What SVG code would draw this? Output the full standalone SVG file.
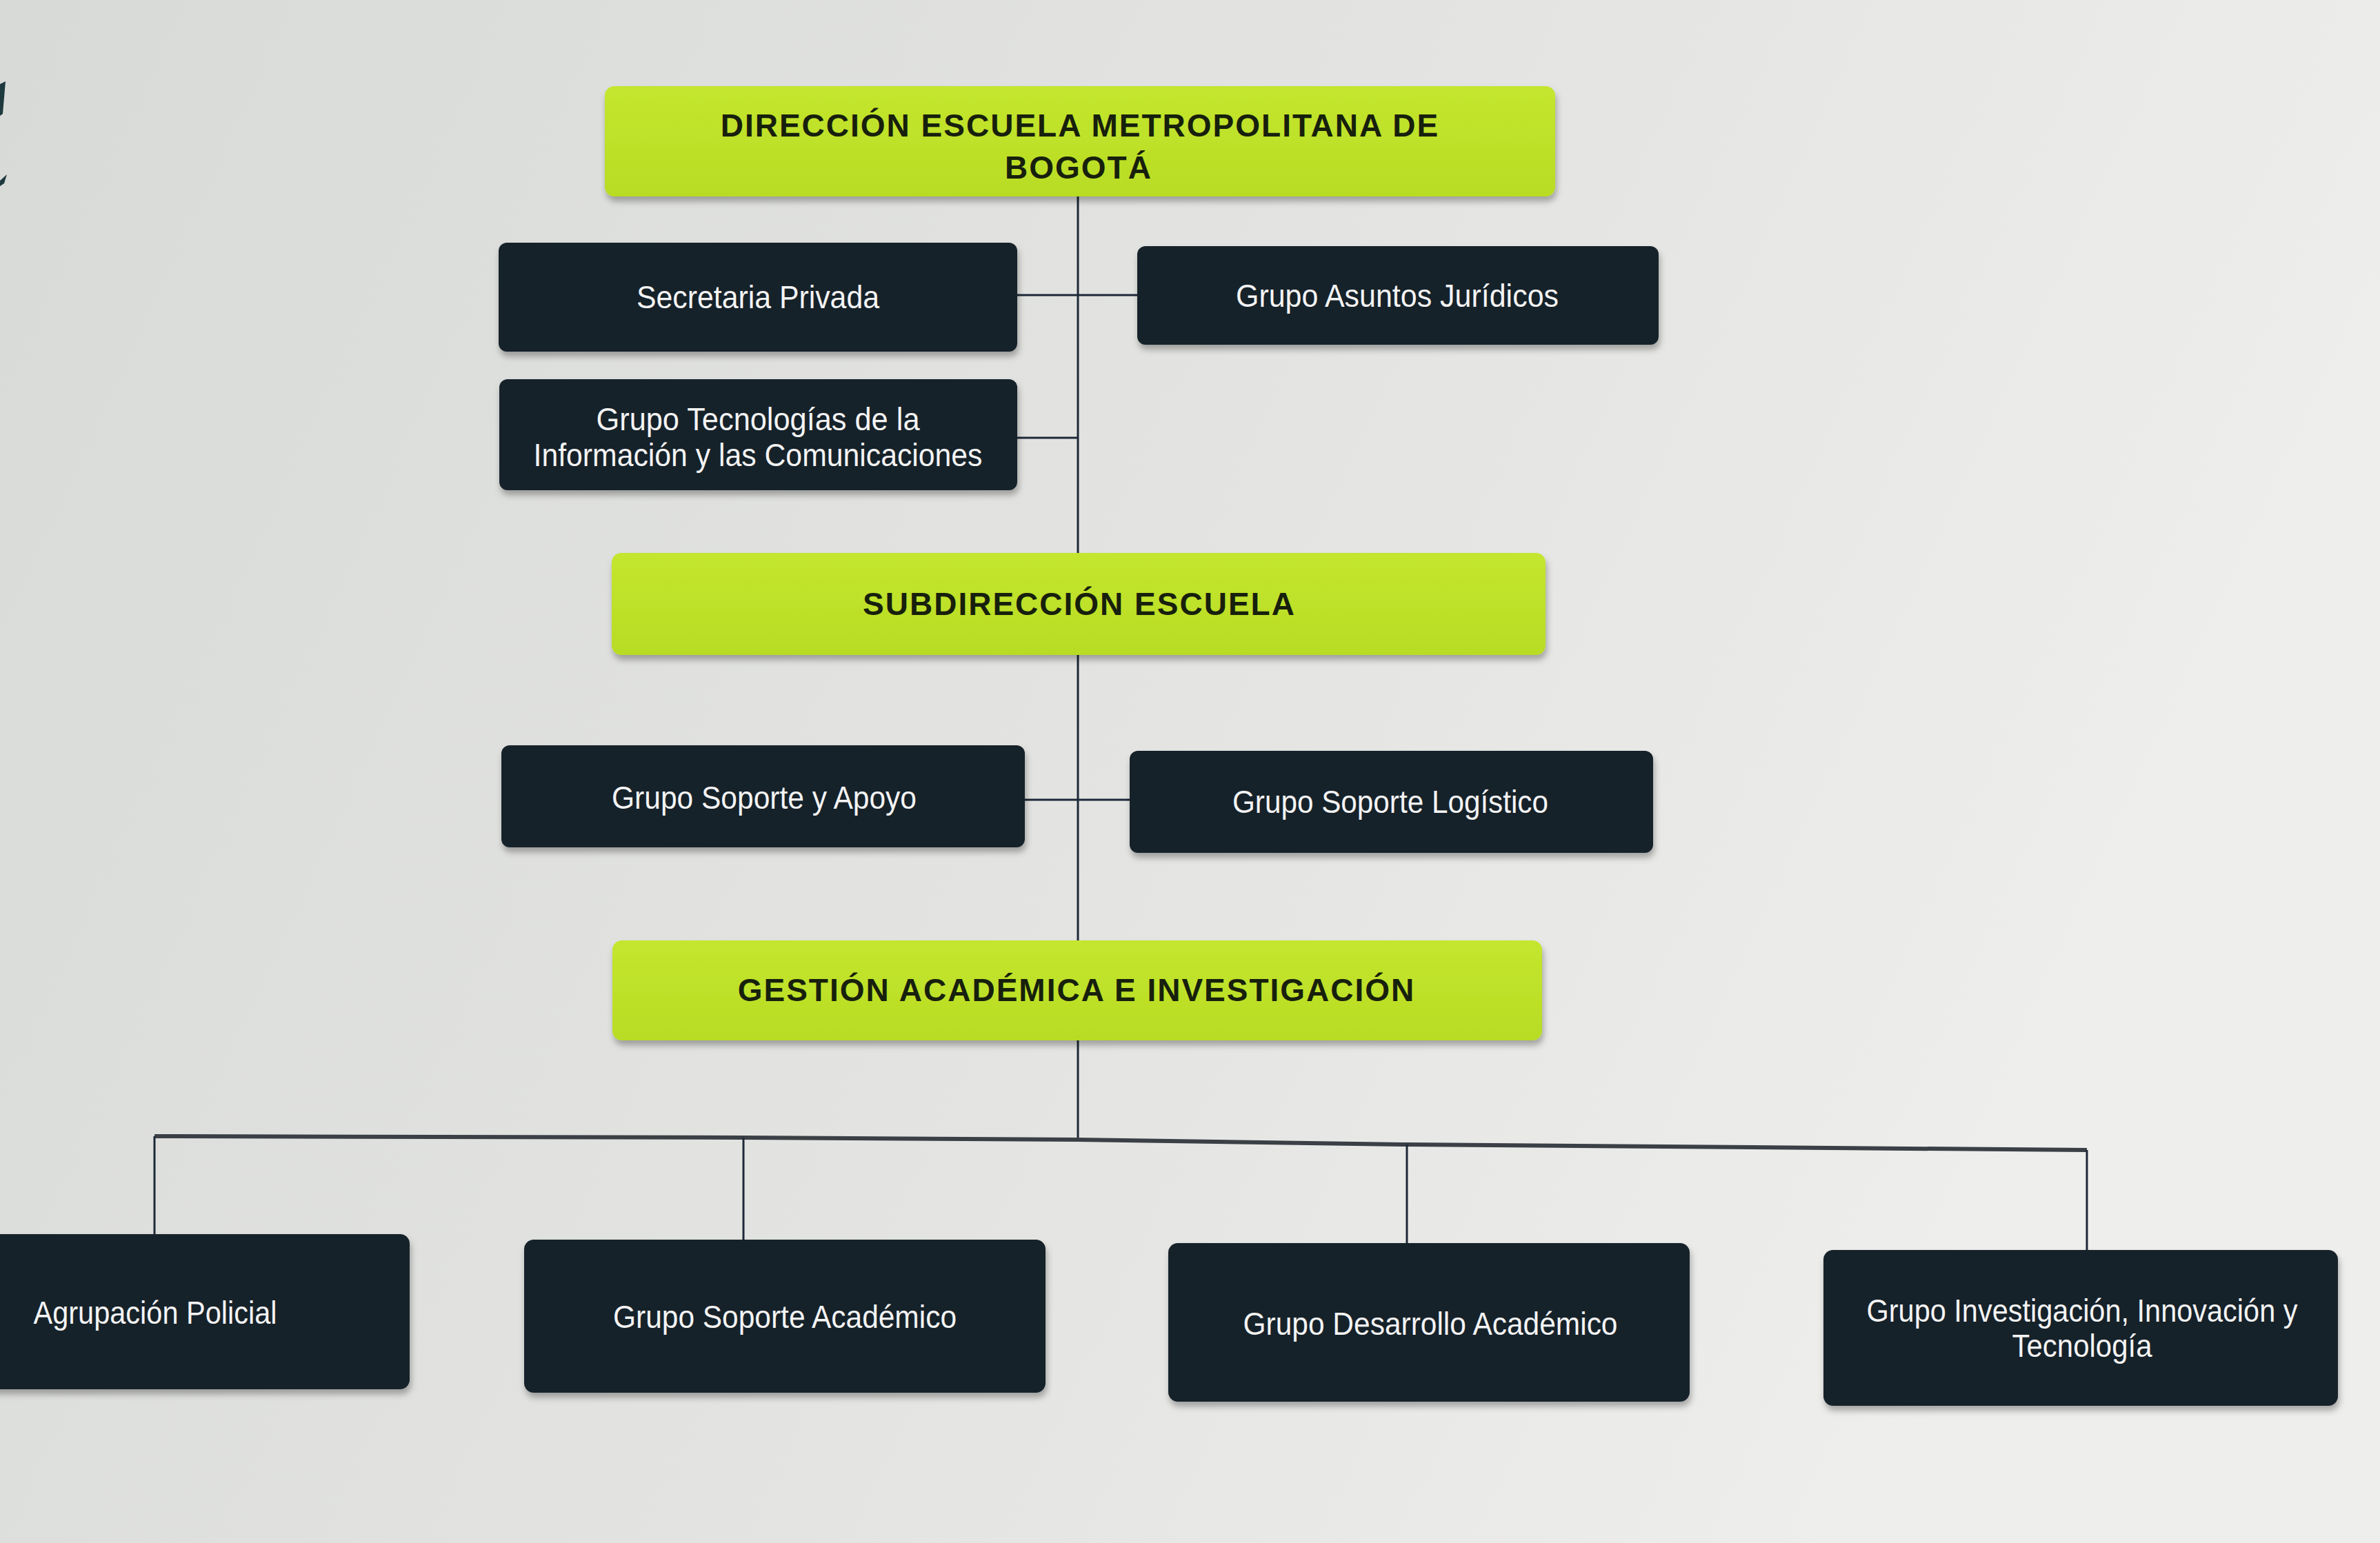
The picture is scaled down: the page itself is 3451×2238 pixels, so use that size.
<svg xmlns="http://www.w3.org/2000/svg" width="3451" height="2238" viewBox="0 0 3451 2238">
<defs>
<linearGradient id="bg" x1="0" y1="0" x2="1" y2="0.3">
<stop offset="0" stop-color="#d8dad7"/>
<stop offset="0.6" stop-color="#e4e5e2"/>
<stop offset="1" stop-color="#eeeeec"/>
</linearGradient>
<linearGradient id="lime" x1="0" y1="0" x2="0" y2="1">
<stop offset="0" stop-color="#c4e62e"/>
<stop offset="1" stop-color="#b8dc24"/>
</linearGradient>
<filter id="sh" x="-5%" y="-10%" width="110%" height="130%">
<feDropShadow dx="2" dy="7" stdDeviation="5" flood-color="#000" flood-opacity="0.3"/>
</filter>
<style>
.g{fill:url(#lime);filter:url(#sh)}
.d{fill:#16202a;filter:url(#sh)}
.gt{font-family:"Liberation Sans",Arial,sans-serif;font-weight:bold;font-size:46px;letter-spacing:2px;fill:#17200c;text-anchor:middle}
.dt{font-family:"Liberation Sans",Arial,sans-serif;font-size:47px;fill:#f4f4f4;text-anchor:middle}
.c{fill:none;stroke:#1d2838;stroke-width:3}
.b{fill:none;stroke:#3b4046;stroke-width:6}
</style>
</defs>
<rect x="0" y="0" width="3451" height="2238" fill="url(#bg)"/>
<path d="M0 122 L8 118 L4 165 L0 168 Z M0 262 L10 253 L6 266 L0 270 Z" fill="#1f3a3e"/>

<g id="connectors">
<line class="c" x1="1563" y1="280" x2="1563" y2="806"/>
<line class="c" x1="1563" y1="945" x2="1563" y2="1366"/>
<line class="c" x1="1563" y1="1500" x2="1563" y2="1653"/>
<line class="c" x1="1475" y1="428" x2="1650" y2="428"/>
<line class="c" x1="1475" y1="635" x2="1563" y2="635"/>
<line class="c" x1="1486" y1="1160" x2="1639" y2="1160"/>
<polyline class="b" points="224,1648 1078,1650 1563,1653 2040,1660 3026,1668"/>
<line class="c" x1="224" y1="1648" x2="224" y2="1792"/>
<line class="c" x1="1078" y1="1650" x2="1078" y2="1800"/>
<line class="c" x1="2040" y1="1660" x2="2040" y2="1805"/>
<line class="c" x1="3026" y1="1668" x2="3026" y2="1815"/>
</g>

<g id="direccion">
<rect class="g" x="877" y="125" width="1378" height="160" rx="14"/>
<text class="gt" x="1566" y="198">DIRECCIÓN ESCUELA METROPOLITANA DE</text>
<text class="gt" x="1564" y="259">BOGOTÁ</text>
</g>
<g id="secretaria">
<rect class="d" x="723" y="352" width="752" height="158" rx="12"/>
<text class="dt" x="1099" y="447" textLength="352" lengthAdjust="spacingAndGlyphs">Secretaria Privada</text>
</g>
<g id="juridicos">
<rect class="d" x="1649" y="357" width="756" height="143" rx="12"/>
<text class="dt" x="2026" y="445" textLength="468" lengthAdjust="spacingAndGlyphs">Grupo Asuntos Jurídicos</text>
</g>
<g id="tic">
<rect class="d" x="724" y="550" width="751" height="161" rx="12"/>
<text class="dt" x="1099" y="624" textLength="469" lengthAdjust="spacingAndGlyphs">Grupo Tecnologías de la</text>
<text class="dt" x="1099" y="676" textLength="651" lengthAdjust="spacingAndGlyphs">Información y las Comunicaciones</text>
</g>
<g id="subdireccion">
<rect class="g" x="887" y="802" width="1354" height="148" rx="14"/>
<text class="gt" x="1565" y="892">SUBDIRECCIÓN ESCUELA</text>
</g>
<g id="soporte-apoyo">
<rect class="d" x="727" y="1081" width="759" height="148" rx="12"/>
<text class="dt" x="1108" y="1173" textLength="442" lengthAdjust="spacingAndGlyphs">Grupo Soporte y Apoyo</text>
</g>
<g id="soporte-logistico">
<rect class="d" x="1638" y="1089" width="759" height="148" rx="12"/>
<text class="dt" x="2016" y="1179" textLength="458" lengthAdjust="spacingAndGlyphs">Grupo Soporte Logístico</text>
</g>
<g id="gestion">
<rect class="g" x="888" y="1364" width="1348" height="145" rx="14"/>
<text class="gt" x="1561" y="1452">GESTIÓN ACADÉMICA E INVESTIGACIÓN</text>
</g>
<g id="agrupacion">
<rect class="d" x="-20" y="1790" width="614" height="225" rx="14"/>
<text class="dt" x="225" y="1920" textLength="353" lengthAdjust="spacingAndGlyphs">Agrupación Policial</text>
</g>
<g id="soporte-academico">
<rect class="d" x="760" y="1798" width="756" height="222" rx="14"/>
<text class="dt" x="1138" y="1926" textLength="498" lengthAdjust="spacingAndGlyphs">Grupo Soporte Académico</text>
</g>
<g id="desarrollo">
<rect class="d" x="1694" y="1803" width="756" height="230" rx="14"/>
<text class="dt" x="2074" y="1936" textLength="543" lengthAdjust="spacingAndGlyphs">Grupo Desarrollo Académico</text>
</g>
<g id="investigacion">
<rect class="d" x="2644" y="1813" width="746" height="226" rx="14"/>
<text class="dt" x="3019" y="1917" textLength="625" lengthAdjust="spacingAndGlyphs">Grupo Investigación, Innovación y</text>
<text class="dt" x="3019" y="1968" textLength="203" lengthAdjust="spacingAndGlyphs">Tecnología</text>
</g>
</svg>
